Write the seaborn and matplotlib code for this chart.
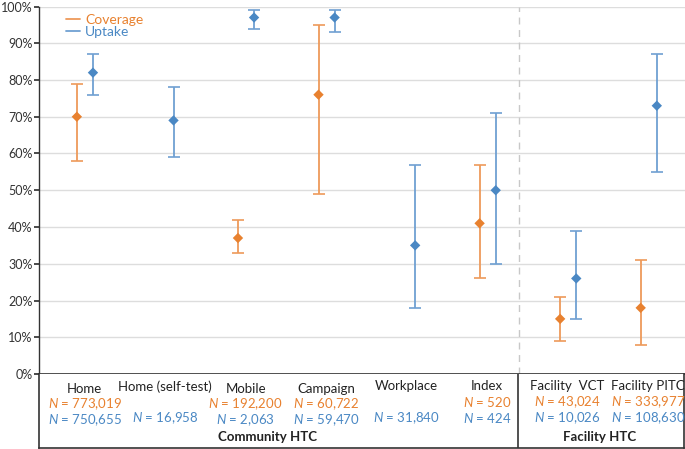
import matplotlib
matplotlib.use("Agg")
import matplotlib.pyplot as plt
import seaborn as sns
import pandas as pd
from matplotlib.lines import Line2D

categories = ["Home", "Home (self-test)", "Mobile", "Campaign", "Workplace",
              "Index", "Facility  VCT", "Facility PITC"]
coverage = [70, None, 37, 76, None, 41, 15, 18]
coverage_lo = [58, None, 33, 49, None, 26, 9, 8]
coverage_hi = [79, None, 42, 95, None, 57, 21, 31]
uptake = [82, 69, 97, 97, 35, 50, 26, 73]
uptake_lo = [76, 59, 94, 93, 18, 30, 15, 55]
uptake_hi = [87, 78, 99, 99, 57, 71, 39, 87]
coverage_n = ["773,019", None, "192,200", "60,722", None, "520", "43,024", "333,977"]
uptake_n = ["750,655", "16,958", "2,063", "59,470", "31,840", "424", "10,026", "108,630"]
yticks = [0, 10, 20, 30, 40, 50, 60, 70, 80, 90, 100]

ORANGE = "#E8812F"
BLUE = "#4A88C4"
ORANGE_L = "#EE9A5A"
BLUE_L = "#6FA0D2"

sns.set_theme(style="white")
plt.rcParams["font.family"] = ["Lato", "DejaVu Sans"]
plt.rcParams["mathtext.fontset"] = "custom"
plt.rcParams["mathtext.it"] = "Lato:italic"
plt.rcParams["mathtext.rm"] = "Lato"

rows = []
for i, c in enumerate(categories):
    if coverage[i] is not None:
        rows.append(dict(pos=i - 0.1, val=coverage[i], lo=coverage_lo[i], hi=coverage_hi[i], series="Coverage"))
    rows.append(dict(pos=i + 0.1, val=uptake[i], lo=uptake_lo[i], hi=uptake_hi[i], series="Uptake"))
df = pd.DataFrame(rows)

W, H = 685, 449
fig = plt.figure(figsize=(W / 100, H / 100), dpi=100)
left = 39 / W
ax = fig.add_axes([left, (H - 374) / H, 1 - left, (374 - 6.5) / H])
tax = fig.add_axes([left, (H - 448) / H, 1 - left - 1.0 / W, (448 - 374) / H], sharex=ax)

xmin, xmax = -0.57, 7.45
ax.set_xlim(xmin, xmax)
ax.set_ylim(0, 100)

palette = {"Coverage": ORANGE, "Uptake": BLUE}
light = {"Coverage": ORANGE_L, "Uptake": BLUE_L}
for s, sub in df.groupby("series"):
    ax.errorbar(sub["pos"], sub["val"],
                yerr=[sub["val"] - sub["lo"], sub["hi"] - sub["val"]],
                fmt="none", ecolor=light[s], elinewidth=1.3, capsize=4, capthick=1.2, zorder=2)
sns.scatterplot(data=df, x="pos", y="val", hue="series", palette=palette, marker="D",
                s=28, edgecolor="none", ax=ax, legend=False, zorder=3)

ax.set_yticks(yticks)
ax.set_yticklabels([f"{v}%" for v in yticks], fontsize=9, color="#333333")
ax.yaxis.grid(True, color="#DDDDDD", linewidth=1)
ax.set_axisbelow(True)
ax.set_xticks([])
ax.set_xlabel("")
ax.set_ylabel("")
ax.tick_params(axis="y", length=3.5, color="#333333", pad=1.2, left=True)
for sp in ["top", "right"]:
    ax.spines[sp].set_visible(False)
ax.spines["left"].set_color("#333333")
ax.spines["bottom"].set_color("#333333")
ax.spines["left"].set_linewidth(1)
ax.spines["bottom"].set_linewidth(1.2)

sep = 5.385
ax.axvline(sep, color="#C8C8C8", linestyle=(0, (5, 4)), linewidth=1, zorder=1)

handles = [Line2D([0], [0], color=ORANGE_L, lw=1.3), Line2D([0], [0], color=BLUE_L, lw=1.3)]
leg = ax.legend(handles, ["Coverage", "Uptake"], loc="upper left", bbox_to_anchor=(0.033, 0.996),
                frameon=False, fontsize=10, handlelength=1.0, handletextpad=0.4,
                labelspacing=0.05, borderaxespad=0)
for t, c in zip(leg.get_texts(), [ORANGE, BLUE]):
    t.set_color(c)

tax.set_ylim(0, 74)
tax.set_xticks([])
tax.set_yticks([])
for sp in tax.spines.values():
    sp.set_color("#333333")
    sp.set_linewidth(1.2)
tax.spines["top"].set_visible(False)
tax.axvline(sep, color="#333333", linewidth=1.2)
tax.set_facecolor("white")

FS = 9.5
for i, c in enumerate(categories):
    if i in (0, 2, 3):
        name_y, cov_y, up_y = 59, 44, 28
    else:
        name_y, cov_y, up_y = 61.5, 46, 30
    if coverage_n[i] is not None:
        tax.text(i, cov_y, rf"$\mathit{{N}}$ = {coverage_n[i]}", ha="center", va="center",
                 fontsize=FS, color=ORANGE)
    tax.text(i, name_y, c, ha="center", va="center", fontsize=FS, color="#222222")
    tax.text(i, up_y, rf"$\mathit{{N}}$ = {uptake_n[i]}", ha="center", va="center",
             fontsize=FS, color=BLUE)

tax.text(2.27, 11, "Community HTC", ha="center", va="center", fontsize=FS, fontweight="bold", color="#222222")
tax.text(6.4, 11, "Facility HTC", ha="center", va="center", fontsize=FS, fontweight="bold", color="#222222")

fig.savefig("out.png", dpi=100)
